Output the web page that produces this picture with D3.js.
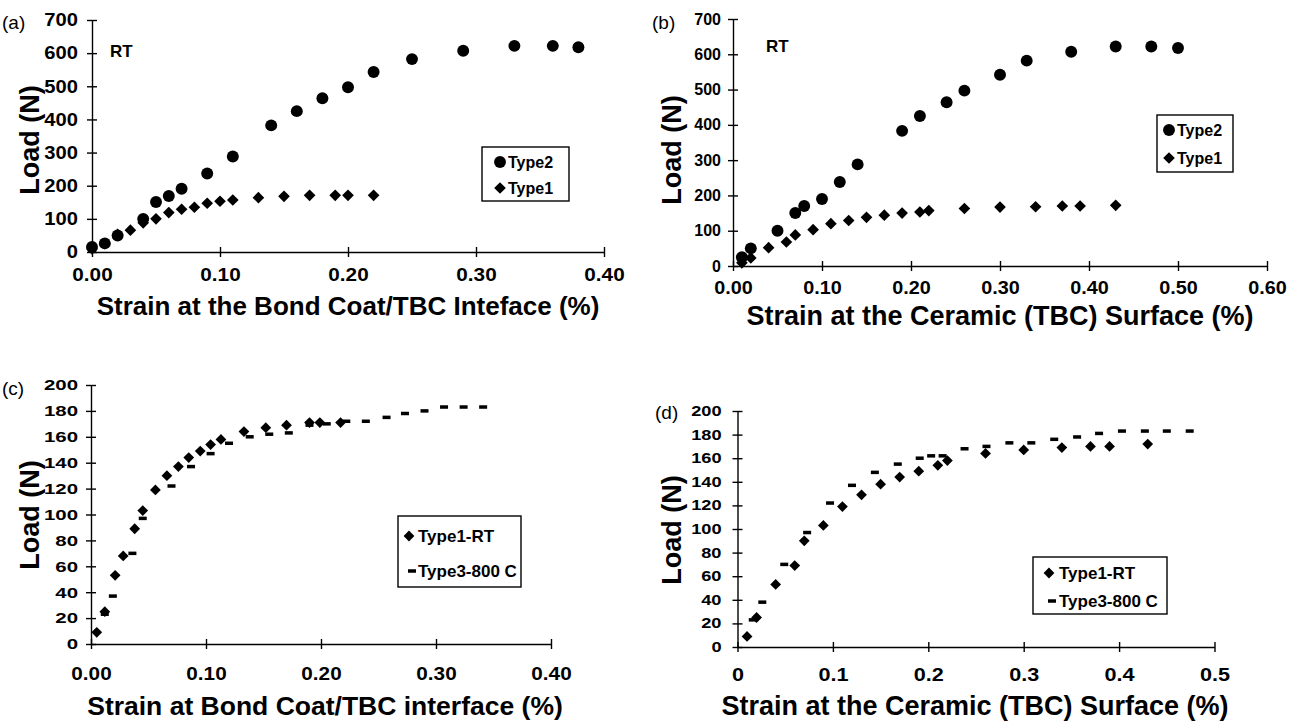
<!DOCTYPE html>
<html>
<head>
<meta charset="utf-8">
<script src="https://cdn.jsdelivr.net/npm/d3@7"></script>
<style>
body { margin: 0; background: #fff; }
svg { font-family: "Liberation Sans", Arial, sans-serif; }
.axis path, .axis line { stroke: #000; stroke-width: 1.4; }
.axis text { font-weight: bold; fill: #000; }
.title { font-weight: bold; fill: #000; }
.legend rect.box { fill: #fff; stroke: #000; stroke-width: 1.4; }
</style>
</head>
<body>
<svg id="fig" width="1293" height="722"></svg>
<script>
/* Load vs strain, four panels. Each point is [strain %, load N]. */
var a_type2 = [[0.00,15],[0.01,26],[0.02,50],[0.04,100],[0.05,151],[0.06,169],[0.07,191],[0.09,237],
               [0.11,288],[0.14,382],[0.16,425],[0.18,464],[0.20,497],[0.22,543],[0.25,582],[0.29,607],
               [0.33,622],[0.36,622],[0.38,618]];
var a_type1 = [[0.00,9],[0.01,25],[0.02,53],[0.03,66],[0.04,88],[0.05,100],[0.06,119],[0.07,129],
               [0.08,135],[0.09,147],[0.10,153],[0.11,157],[0.13,164],[0.15,168],[0.17,171],[0.19,171],
               [0.20,171],[0.22,171]];

var b_type2 = [[0.01,25],[0.02,50],[0.05,100],[0.07,150],[0.08,170],[0.10,190],[0.12,238],[0.14,288],
               [0.19,383],[0.21,425],[0.24,464],[0.26,497],[0.30,542],[0.33,582],[0.38,607],[0.43,622],
               [0.47,622],[0.50,618]];
var b_type1 = [[0.01,9],[0.02,23],[0.04,52],[0.06,68],[0.07,88],[0.09,103],[0.11,120],[0.13,129],
               [0.15,138],[0.17,144],[0.19,150],[0.21,153],[0.22,157],[0.26,163],[0.30,167],[0.34,168],
               [0.37,170],[0.39,170],[0.43,172]];

var c_type1 = [[0.005,9],[0.012,25],[0.021,53],[0.028,68],[0.038,89],[0.045,103],[0.056,119],[0.066,130],
               [0.076,137],[0.085,144],[0.095,149],[0.104,154],[0.113,158],[0.133,164],[0.152,167],
               [0.170,169],[0.190,171],[0.199,171],[0.217,171]];
var c_type3 = [[0.012,23],[0.019,37],[0.036,70],[0.045,97],[0.070,122],[0.087,137],[0.104,147],[0.120,155],
               [0.138,160],[0.155,162],[0.172,163],[0.190,169],[0.205,170],[0.222,172],[0.239,172],
               [0.257,175],[0.273,178],[0.290,180],[0.307,183],[0.324,183],[0.341,183]];

var d_type1 = [[0.01,9],[0.02,25],[0.04,53],[0.06,69],[0.07,90],[0.09,103],[0.11,119],[0.13,129],
               [0.15,138],[0.17,144],[0.19,149],[0.21,154],[0.22,158],[0.26,164],[0.30,167],[0.34,169],
               [0.37,170],[0.39,170],[0.43,172]];
var d_type3 = [[0.016,23],[0.026,38],[0.049,70],[0.073,97],[0.097,122],[0.120,137],[0.144,148],[0.168,155],
               [0.191,160],[0.203,162],[0.215,162],[0.238,168],[0.261,170],[0.285,173],[0.308,173],
               [0.332,176],[0.356,178],[0.379,181],[0.403,183],[0.427,183],[0.450,183],[0.474,183]];

var strain_ticks_a = [0, 0.1, 0.2, 0.3, 0.4];
var strain_ticks_b = [0, 0.1, 0.2, 0.3, 0.4, 0.5, 0.6];
var strain_ticks_c = [0, 0.1, 0.2, 0.3, 0.4];
var strain_ticks_d = [0, 0.1, 0.2, 0.3, 0.4, 0.5];
var load_ticks_700 = [0, 100, 200, 300, 400, 500, 600, 700];
var load_ticks_200 = [0, 20, 40, 60, 80, 100, 120, 140, 160, 180, 200];

var svg = d3.select("#fig");

function translate(x, y) { return "translate(" + x + "," + y + ")"; }

/* widen a text selection horizontally (the scanned figure is stretched) */
function stretch(sel, sx) {
    sel.each(function() {
        var w = this.getComputedTextLength();
        d3.select(this).attr("textLength", w * sx).attr("lengthAdjust", "spacingAndGlyphs");
    });
}

function draw_markers(g, data, x, y, kind, size) {
    var pts = g.append("g").selectAll("g").data(data).enter();
    if (kind === "dash") {
        pts.append("rect")
            .attr("x", function(d) { return x(d[0]) - 4; })
            .attr("y", function(d) { return y(d[1]) - 1.75; })
            .attr("width", 8).attr("height", 3.5)
            .attr("fill", "#000");
        return;
    }
    var sym = kind === "circle"
        ? d3.symbol().type(d3.symbolCircle).size(size)
        : d3.symbol().type(d3.symbolSquare).size(size);
    pts.append("path")
        .attr("d", sym)
        .attr("fill", "#000")
        .attr("transform", function(d) {
            return translate(x(d[0]), y(d[1])) + (kind === "diamond" ? " rotate(45)" : "");
        });
}

function legend_marker(g, kind, cx, cy, size) {
    draw_markers(g, [[0, 0]], function() { return cx; }, function() { return cy; }, kind, size);
}

function panel(p) {
    var x = d3.scaleLinear().domain(p.xDomain).range(p.xRange);
    var y = d3.scaleLinear().domain(p.yDomain).range(p.yRange);
    var g = svg.append("g");

    var xAxis = d3.axisBottom(x).tickValues(p.xTicks).tickFormat(p.xFormat)
        .tickSize(5).tickSizeOuter(0).tickPadding(p.xPad);
    var yAxis = d3.axisLeft(y).tickValues(p.yTicks).tickFormat(d3.format("d"))
        .tickSize(5).tickSizeOuter(0).tickPadding(p.yPad);

    var gx = g.append("g").attr("class", "axis")
        .attr("transform", translate(0, p.yRange[0]))
        .call(xAxis);
    gx.selectAll(".tick line").attr("y1", -5).attr("y2", 5);
    gx.selectAll("text").style("font-size", p.xFont + "px").call(stretch, p.xStretch);

    var gy = g.append("g").attr("class", "axis")
        .attr("transform", translate(p.xRange[0], 0))
        .call(yAxis);
    gy.selectAll(".tick line").attr("x1", -5).attr("x2", 5);
    gy.selectAll("text").style("font-size", p.yFont + "px").call(stretch, p.yStretch);
    g.selectAll(".axis").attr("font-family", null).attr("font-size", null);

    /* series */
    p.series.forEach(function(s) {
        draw_markers(g, s.data, x, y, s.kind, s.size);
    });

    /* axis titles */
    g.append("text").attr("class", "title")
        .attr("x", p.xTitle[0]).attr("y", p.xTitle[1])
        .attr("text-anchor", "middle").attr("dy", "0.35em")
        .style("font-size", p.xTitleFont + "px")
        .text(p.xLabel);
    g.append("text").attr("class", "title")
        .attr("transform", translate(p.yTitle[0], p.yTitle[1]) + " rotate(-90)")
        .attr("text-anchor", "middle").attr("dy", "0.35em")
        .style("font-size", "27px")
        .text("Load (N)");

    /* panel letter */
    g.append("text")
        .attr("x", p.letter[0]).attr("y", p.letter[1])
        .attr("dy", "0.35em")
        .style("font-size", "19px")
        .text(p.letterText);

    if (p.rt) {
        g.append("text").attr("class", "title")
            .attr("x", p.rt[0]).attr("y", p.rt[1])
            .style("font-size", "17px")
            .text("RT");
    }

    /* legend */
    var lg = g.append("g").attr("class", "legend");
    var b = p.legend.box;
    lg.append("rect").attr("class", "box")
        .attr("x", b[0]).attr("y", b[1]).attr("width", b[2]).attr("height", b[3]);
    p.legend.items.forEach(function(it) {
        var s = p.series[it.series];
        legend_marker(lg, s.kind, it.mx, it.y, s.size);
        lg.append("text").attr("class", "title")
            .attr("x", p.legend.textX).attr("y", it.y)
            .attr("dy", "0.35em")
            .style("font-size", p.legend.font + "px")
            .text(s.name);
    });
}

panel({
    xDomain: [0, 0.4], xRange: [92, 604], yDomain: [0, 700], yRange: [252, 20],
    xTicks: strain_ticks_a, yTicks: load_ticks_700, xFormat: d3.format(".2f"),
    xPad: 11, yPad: 9, xFont: 18, xStretch: 1.15, yFont: 18, yStretch: 1.12,
    series: [
        {name: "Type2", data: a_type2, kind: "circle", size: 112},
        {name: "Type1", data: a_type1, kind: "diamond", size: 68}
    ],
    xLabel: "Strain at the Bond Coat/TBC Inteface (%)", xTitle: [348, 306], xTitleFont: 26,
    yTitle: [30, 140], letter: [2, 22], letterText: "(a)", rt: [110, 57],
    legend: {box: [482, 147, 87, 54], textX: 508, font: 16,
             items: [{series: 0, mx: 500, y: 162}, {series: 1, mx: 500, y: 188}]}
});

panel({
    xDomain: [0, 0.6], xRange: [733, 1267], yDomain: [0, 700], yRange: [266, 19],
    xTicks: strain_ticks_b, yTicks: load_ticks_700, xFormat: d3.format(".2f"),
    xPad: 10, yPad: 7, xFont: 18, xStretch: 1.1, yFont: 16, yStretch: 1,
    series: [
        {name: "Type2", data: b_type2, kind: "circle", size: 112},
        {name: "Type1", data: b_type1, kind: "diamond", size: 68}
    ],
    xLabel: "Strain at the Ceramic (TBC) Surface (%)", xTitle: [1000, 316], xTitleFont: 27,
    yTitle: [672, 150], letter: [652, 22], letterText: "(b)", rt: [766, 52],
    legend: {box: [1157, 115, 76, 57], textX: 1177, font: 16,
             items: [{series: 0, mx: 1169, y: 130}, {series: 1, mx: 1169, y: 158}]}
});

panel({
    xDomain: [0, 0.4], xRange: [91, 551], yDomain: [0, 200], yRange: [644, 385],
    xTicks: strain_ticks_c, yTicks: load_ticks_200, xFormat: d3.format(".2f"),
    xPad: 18, yPad: 8, xFont: 18, xStretch: 1.15, yFont: 15, yStretch: 1.36,
    series: [
        {name: "Type1-RT", data: c_type1, kind: "diamond", size: 58},
        {name: "Type3-800 C", data: c_type3, kind: "dash"}
    ],
    xLabel: "Strain at Bond Coat/TBC interface (%)", xTitle: [325, 706], xTitleFont: 26.5,
    yTitle: [30, 515], letter: [2, 388], letterText: "(c)",
    legend: {box: [398, 516, 123, 71], textX: 418, font: 17,
             items: [{series: 0, mx: 409, y: 536}, {series: 1, mx: 412, y: 571}]}
});

panel({
    xDomain: [0, 0.5], xRange: [737.5, 1214.5], yDomain: [0, 200], yRange: [647, 411],
    xTicks: strain_ticks_d, yTicks: load_ticks_200, xFormat: d3.format(""),
    xPad: 16, yPad: 11, xFont: 18, xStretch: 1.2, yFont: 14, yStretch: 1.3,
    series: [
        {name: "Type1-RT", data: d_type1, kind: "diamond", size: 58},
        {name: "Type3-800 C", data: d_type3, kind: "dash"}
    ],
    xLabel: "Strain at the Ceramic (TBC) Surface (%)", xTitle: [975, 706], xTitleFont: 27,
    yTitle: [672, 530], letter: [655, 412], letterText: "(d)",
    legend: {box: [1033, 557, 134, 57], textX: 1059, font: 17,
             items: [{series: 0, mx: 1049, y: 573}, {series: 1, mx: 1052, y: 601}]}
});
</script>
</body>
</html>
